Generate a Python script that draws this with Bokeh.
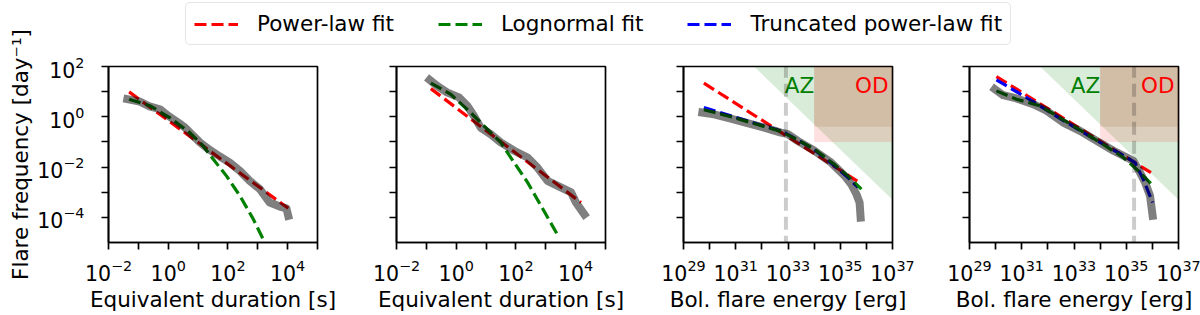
import math
import numpy as np
from bokeh.plotting import figure
from bokeh.models import Range1d, FixedTicker, CustomJSTickFormatter, Legend, LegendItem, Label
from bokeh.layouts import row, column
from bokeh.embed import file_html
from bokeh.resources import INLINE
from bokeh.core.properties import value

FONT = "DejaVu Sans"

# ---------------- data (log10 values) ----------------
# Panel 1: equivalent duration
p1_obs_lx = [-1.37, -0.95, -0.62, -0.28, 0.0, 0.33, 0.56, 0.78, 1.06, 1.39, 1.73, 2.06, 2.40, 2.73, 3.07, 3.40, 3.74, 3.96, 4.02]
p1_obs_ly = [0.70, 0.60, 0.41, 0.30, 0.04, -0.23, -0.43, -0.69, -1.02, -1.32, -1.58, -1.82, -2.15, -2.55, -2.88, -3.41, -3.57, -3.64, -3.94]
p1_pl_lx = [-1.31, 4.02]
p1_pl_ly = [0.99, -3.64]
p1_ln_lx = [-1.31, -0.62, 0.05, 0.72, 1.17, 1.51, 1.95, 2.40, 2.85, 3.18, 3.24]
p1_ln_ly = [0.70, 0.44, -0.03, -0.63, -1.16, -1.69, -2.35, -3.14, -4.07, -4.87, -5.0]

# Panel 2: equivalent duration
p2_obs_lx = [-0.89, -0.64, -0.31, 0.09, 0.37, 0.59, 0.82, 1.15, 1.49, 1.94, 2.39, 2.72, 3.06, 3.40, 3.85, 4.01, 4.29]
p2_obs_ly = [1.47, 1.23, 0.97, 0.77, 0.44, 0.04, -0.43, -0.69, -1.02, -1.35, -1.62, -2.02, -2.55, -2.75, -3.01, -3.41, -3.88]
p2_pl_lx = [-0.85, 4.18]
p2_pl_ly = [1.12, -3.41]
p2_ln_lx = [-0.85, -0.19, 0.48, 1.04, 1.49, 1.94, 2.39, 2.84, 3.44]
p2_ln_ly = [1.34, 0.90, 0.17, -0.49, -1.02, -1.82, -2.61, -3.54, -4.79]

# Panel 3: bolometric flare energy
p3_obs_lx = [29.72, 30.17, 30.81, 31.45, 32.09, 32.73, 32.99, 33.37, 34.01, 34.65, 35.17, 35.42, 35.62, 35.74, 35.78]
p3_obs_ly = [0.17, 0.10, -0.07, -0.25, -0.43, -0.63, -0.69, -0.96, -1.35, -1.82, -2.35, -2.68, -3.08, -3.41, -4.01]
p3_pl_lx = [29.78, 35.78]
p3_pl_ly = [1.34, -2.64]
p3_tpl_lx = [29.78, 30.81, 31.83, 32.73, 33.37, 34.01, 34.78, 35.30, 35.68]
p3_tpl_ly = [0.37, 0.04, -0.29, -0.56, -0.92, -1.31, -1.95, -2.42, -2.81]
p3_ln_lx = [29.78, 30.81, 31.83, 32.73, 33.37, 34.01, 34.78, 35.30, 35.81]
p3_ln_ly = [0.28, 0.0, -0.31, -0.58, -0.92, -1.29, -1.90, -2.36, -2.88]
p3_vline_lx = 32.92

# Panel 4: bolometric flare energy
p4_obs_lx = [29.97, 30.29, 30.80, 31.44, 31.95, 32.59, 33.23, 33.87, 34.51, 35.02, 35.27, 35.46, 35.72, 35.91, 36.01]
p4_obs_ly = [1.10, 0.86, 0.73, 0.50, 0.24, -0.23, -0.56, -0.96, -1.35, -1.62, -1.75, -2.08, -2.61, -3.14, -3.94]
p4_pl_lx = [30.03, 35.97]
p4_pl_ly = [1.60, -2.24]
p4_tpl_lx = [30.03, 31.44, 32.72, 34.0, 35.02, 35.33, 35.65, 36.01]
p4_tpl_ly = [1.47, 0.60, -0.23, -1.02, -1.62, -1.82, -2.48, -3.41]
p4_ln_lx = [30.03, 30.80, 31.69, 32.72, 34.0, 34.89, 35.40, 35.97]
p4_ln_ly = [1.03, 0.70, 0.44, -0.20, -1.02, -1.62, -2.09, -2.68]
p4_vline_lx = 35.30

# Shaded zones (energy panels)
az_lx = [31.7, 37.0, 37.0]
az_ly = [2.0, 2.0, -3.3]
od_lx = [34.0, 37.0]
od_ly = [-1.0, 2.0]
od_core_ly = [-0.4, 2.0]
zone_text_ly = 1.25
az_text_lx = 34.0
od_text_lx = 36.85

# Axis ranges / ticks (exponents)
ed_xrange = (-2, 5)
en_xrange = (29, 37)
yrange = (-5, 2)
ed_xmajor = [-2, 0, 2, 4]
ed_xminor = [-1, 1, 3, 5]
en_xmajor = [29, 31, 33, 35, 37]
en_xminor = [30, 32, 34, 36]
ymajor = [-4, -2, 0, 2]
yminor = [-5, -3, -1, 1]

legend_labels = ["Power-law fit", "Lognormal fit", "Truncated power-law fit"]
ylabel = "Flare frequency [day\u207b\u00b9]"
ed_label = "Equivalent duration [s]"
en_label = "Bol. flare energy [erg]"
zone_labels = ["AZ", "OD"]


def p10(a):
    return (10.0 ** np.asarray(a, dtype=float)).tolist()


RED, GREEN, BLUE = "#ff0000", "#008000", "#0000ff"
DASH = "12 5"
FIT_W = 3.2
TICK_FS = "20.5px"
LABEL_FS = "21.5px"

TOTAL_H = 315
LEG_H = 48
TOP = 18
FH = 176
FW = 209
BOTTOM = TOTAL_H - LEG_H - TOP - FH
YL_W = 34


def make_panel(xr, xmaj, xmin, xlabel, show_ylab, lb, rb):
    p = figure(x_axis_type="log", y_axis_type="log",
               x_range=Range1d(10.0 ** xr[0], 10.0 ** xr[1]),
               y_range=Range1d(10.0 ** yrange[0], 10.0 ** yrange[1]),
               frame_width=FW, frame_height=FH,
               min_border_left=lb, min_border_right=rb,
               min_border_top=TOP, min_border_bottom=BOTTOM,
               toolbar_location=None, output_backend="svg")
    p.grid.visible = False
    p.outline_line_color = "black"
    p.outline_line_width = 1.7
    p.background_fill_color = "white"
    p.border_fill_color = "white"
    p.xaxis.ticker = FixedTicker(ticks=p10(xmaj), minor_ticks=p10(xmin))
    p.yaxis.ticker = FixedTicker(ticks=p10(ymajor), minor_ticks=p10(yminor))
    for ax in (p.xaxis[0], p.yaxis[0]):
        ax.axis_line_width = 1.7
        ax.major_tick_line_width = 1.7
        ax.minor_tick_line_width = 1.7
        ax.major_tick_out = 7
        ax.major_tick_in = 0
        ax.minor_tick_out = 7
        ax.minor_tick_in = 0
        ax.major_label_text_font = FONT
        ax.major_label_text_font_size = TICK_FS
        ax.major_label_text_color = "black"
        ax.axis_label_text_font = FONT
        ax.axis_label_text_font_size = LABEL_FS
        ax.axis_label_text_font_style = "normal"
        ax.axis_label_text_color = "black"
    p.xaxis.major_label_standoff = 9
    p.yaxis.major_label_standoff = 17
    p.xaxis.axis_label = xlabel
    p.xaxis.axis_label_standoff = 3
    if not show_ylab:
        p.yaxis.formatter = CustomJSTickFormatter(code="return ''")
    return p


def add_zones(p):
    p.patch(p10(az_lx), p10(az_ly), fill_color=GREEN, fill_alpha=0.15, line_color=None)
    p.quad(left=[10.0 ** od_lx[0]], right=[10.0 ** od_lx[1]], bottom=[10.0 ** od_ly[0]], top=[10.0 ** od_ly[1]],
           fill_color=RED, fill_alpha=0.12, line_color=None)
    p.quad(left=[10.0 ** od_lx[0]], right=[10.0 ** od_lx[1]], bottom=[10.0 ** od_core_ly[0]], top=[10.0 ** od_core_ly[1]],
           fill_color="#8b4513", fill_alpha=0.13, line_color=None)
    p.text(x=[10.0 ** az_text_lx], y=[10.0 ** zone_text_ly], text=[zone_labels[0]], text_color=GREEN,
           text_align="right", text_baseline="alphabetic",
           text_font=value(FONT), text_font_size=LABEL_FS)
    p.text(x=[10.0 ** od_text_lx], y=[10.0 ** zone_text_ly], text=[zone_labels[1]], text_color=RED,
           text_align="right", text_baseline="alphabetic",
           text_font=value(FONT), text_font_size=LABEL_FS)


def add_vline(p, lx):
    p.line(p10([lx, lx]), p10([yrange[0] - 1, yrange[1]]), line_color="black", line_alpha=0.2,
           line_width=4, line_dash="13 6")


def fit(p, lx, ly, color):
    p.line(p10(lx), p10(ly), line_color=color, line_width=FIT_W, line_dash=DASH)


def obs(p, lx, ly):
    p.line(p10(lx), p10(ly), line_color="black", line_alpha=0.5, line_width=8,
           line_join="round", line_cap="square")


# frame lefts at x = 107, 395, 682, 968 (page pixels)
p1 = make_panel(ed_xrange, ed_xmajor, ed_xminor, ed_label, True, 107 - YL_W, 22)
fit(p1, p1_pl_lx, p1_pl_ly, RED)
fit(p1, p1_ln_lx, p1_ln_ly, GREEN)
obs(p1, p1_obs_lx, p1_obs_ly)

p2 = make_panel(ed_xrange, ed_xmajor, ed_xminor, ed_label, False, 395 - (107 + FW + 22), 22)
fit(p2, p2_pl_lx, p2_pl_ly, RED)
fit(p2, p2_ln_lx, p2_ln_ly, GREEN)
obs(p2, p2_obs_lx, p2_obs_ly)

p3 = make_panel(en_xrange, en_xmajor, en_xminor, en_label, False, 682 - (395 + FW + 22), 26)
add_zones(p3)
add_vline(p3, p3_vline_lx)
fit(p3, p3_pl_lx, p3_pl_ly, RED)
fit(p3, p3_tpl_lx, p3_tpl_ly, BLUE)
fit(p3, p3_ln_lx, p3_ln_ly, GREEN)
obs(p3, p3_obs_lx, p3_obs_ly)

p4 = make_panel(en_xrange, en_xmajor, en_xminor, en_label, False, 968 - (682 + FW + 26), 1200 - (968 + FW))
add_zones(p4)
add_vline(p4, p4_vline_lx)
fit(p4, p4_pl_lx, p4_pl_ly, RED)
fit(p4, p4_tpl_lx, p4_tpl_ly, BLUE)
fit(p4, p4_ln_lx, p4_ln_ly, GREEN)
obs(p4, p4_obs_lx, p4_obs_ly)

ROW_W = 1200 - YL_W

# Legend strip
lf = figure(width=ROW_W, height=LEG_H, toolbar_location=None, output_backend="svg",
            min_border_left=185 - YL_W, min_border_right=0, min_border_top=2, min_border_bottom=0,
            x_axis_location=None, y_axis_location=None,
            x_range=Range1d(0, 1), y_range=Range1d(0, 1))
lf.outline_line_color = None
lf.grid.visible = False
rs = []
for c in (RED, GREEN, BLUE):
    rs.append(lf.line([-10, -9], [-10, -9], line_color=c, line_width=FIT_W, line_dash=DASH))
leg = Legend(items=[LegendItem(label=l, renderers=[r]) for l, r in zip(legend_labels, rs)],
             orientation="horizontal", location="top_left", margin=0,
             glyph_width=44, glyph_height=22, label_standoff=19, spacing=44, padding=8,
             label_text_font=FONT, label_text_font_size=LABEL_FS, label_text_color="black",
             border_line_color="#cccccc", border_line_width=1.7,
             background_fill_color="white", background_fill_alpha=1.0)
if "border_radius" in Legend.properties():
    leg.border_radius = 5
lf.add_layout(leg)

# Y-axis label strip (spans the full height so the long label is not clipped)
yl = figure(width=YL_W, height=TOTAL_H, toolbar_location=None, output_backend="svg",
            min_border=0, x_axis_location=None, y_axis_location=None,
            x_range=Range1d(0, YL_W), y_range=Range1d(0, TOTAL_H))
yl.outline_line_color = None
yl.grid.visible = False
yl.add_layout(Label(x=20, y=TOTAL_H - (LEG_H + TOP + FH / 2), text=ylabel, angle=math.pi / 2,
                    text_align="center", text_baseline="alphabetic", text_color="black",
                    text_font=FONT, text_font_size=LABEL_FS))

layout = row(yl, column(lf, row(p1, p2, p3, p4)))
open("out.html", "w").write(file_html(layout, INLINE))
